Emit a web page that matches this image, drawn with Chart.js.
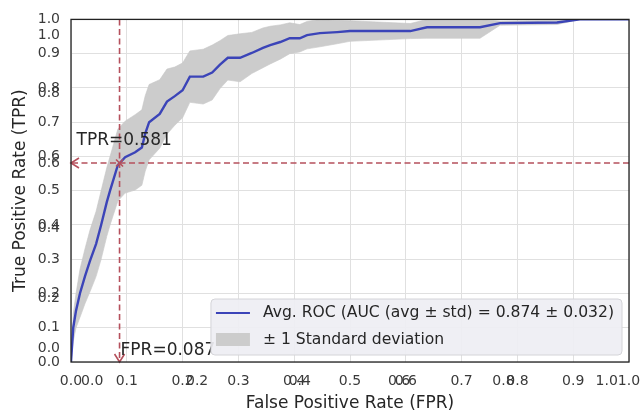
<!DOCTYPE html>
<html>
<head>
<meta charset="utf-8">
<script src="https://cdn.jsdelivr.net/npm/chart.js@4.4.1/dist/chart.umd.min.js"></script>
<style>
  html, body { margin: 0; padding: 0; background: #fff; }
  #wrap { width: 644px; height: 415px; }
</style>
</head>
<body>
<div id="wrap"><canvas id="rocChart"></canvas></div>
<script>
// averaged ROC curve
const fprValues = [0, 0.004, 0.009, 0.016, 0.025, 0.034, 0.045, 0.054, 0.064, 0.07, 0.084, 0.097, 0.115, 0.127, 0.133, 0.14,
    0.159, 0.172, 0.186, 0.2, 0.213, 0.237, 0.253, 0.267, 0.281, 0.303, 0.324, 0.344, 0.357, 0.375, 0.392, 0.41, 0.423,
    0.446, 0.477, 0.5, 0.608, 0.638, 0.733, 0.769, 0.871, 0.912, 1.0];
const meanTpr = [0, 0.1, 0.15, 0.2, 0.25, 0.295, 0.345, 0.4, 0.466, 0.5, 0.575, 0.598, 0.612, 0.626, 0.667, 0.7,
    0.724, 0.76, 0.776, 0.793, 0.833, 0.833, 0.845, 0.868, 0.888, 0.888, 0.902, 0.917, 0.925, 0.934, 0.945, 0.945, 0.954,
    0.96, 0.963, 0.966, 0.966, 0.977, 0.977, 0.989, 0.991, 1.0, 1.0];
const stdTpr = [0, 0.04, 0.05, 0.07, 0.08, 0.09, 0.095, 0.1, 0.1, 0.1, 0.105, 0.105, 0.11, 0.11, 0.11, 0.11,
    0.1, 0.095, 0.085, 0.08, 0.075, 0.08, 0.08, 0.07, 0.065, 0.07, 0.06, 0.058, 0.055, 0.05, 0.045, 0.04, 0.04,
    0.04, 0.034, 0.03, 0.022, 0.032, 0.032, 0.006, 0.006, 0, 0];

const xTicks = [0, 0.1, 0.2, 0.3, 0.4, 0.5, 0.6, 0.7, 0.8, 0.9, 1.0];
const xExtraTicks = [0.038, 0.226, 0.41, 0.588, 0.775, 0.96];
const yTicks = [0, 0.1, 0.2, 0.3, 0.4, 0.5, 0.6, 0.7, 0.8, 0.9, 1.0];
const yExtraTicks = [0.04, 0.186, 0.39, 0.581, 0.785, 0.954];

const thresholdFpr = 0.087;
const thresholdTpr = 0.581;
const aucMean = 0.874;
const aucStd = 0.032;

const meanLabel = `Avg. ROC (AUC (avg ± std) = ${aucMean.toFixed(3)} ± ${aucStd.toFixed(3)})`;
const bandLabel = '± 1 Standard deviation';

const lineColor = '#3b44b8';
const bandColor = '#cccccc';
const markColor = '#b5505c';
const textColor = '#262626';

Chart.defaults.font.family = "'DejaVu Sans', sans-serif";
Chart.defaults.color = textColor;

const meanPoints = fprValues.map((x, i) => ({ x: x, y: meanTpr[i] }));
const upperPoints = fprValues.map((x, i) => ({ x: x, y: Math.min(meanTpr[i] + stdTpr[i], 1) }));
const lowerPoints = fprValues.map((x, i) => ({ x: x, y: Math.max(meanTpr[i] - stdTpr[i], 0) }));

function isExtra(list, v) {
    return list.some(e => Math.abs(e - v) < 1e-9);
}

function axisOptions(mainTicks, extraTicks, title) {
    return {
        type: 'linear',
        min: 0,
        max: 1,
        afterBuildTicks: (scale) => {
            scale.ticks = mainTicks.concat(extraTicks).map(v => ({ value: v }));
        },
        ticks: {
            autoSkip: false,
            maxRotation: 0,
            padding: 11,
            color: '#3a3a3a',
            font: { size: 14 },
            callback: (v) => Number(v).toFixed(1),
        },
        grid: {
            drawTicks: false,
            lineWidth: 1,
            color: (ctx) => (ctx.tick && isExtra(extraTicks, ctx.tick.value)) ? 'rgba(0,0,0,0)' : '#e0e0e0',
        },
        border: { display: false },
        title: {
            display: true,
            text: title,
            color: textColor,
            font: { size: 17 },
        },
    };
}

const xOpts = axisOptions(xTicks, xExtraTicks, 'False Positive Rate (FPR)');
xOpts.title.padding = { top: 0, bottom: 1 };
xOpts.afterFit = (scale) => { scale.height = 53; };

const yOpts = axisOptions(yTicks, yExtraTicks, 'True Positive Rate (TPR)');
yOpts.title.padding = { top: 10, bottom: 0 };
yOpts.afterFit = (scale) => { scale.width = 71; };

const overlayPlugin = {
    id: 'overlay',
    afterDatasetsDraw(chart) {
        const { ctx, chartArea: a, scales: { x, y } } = chart;
        const px = x.getPixelForValue(thresholdFpr);
        const py = y.getPixelForValue(thresholdTpr);

        ctx.save();
        // dashed threshold lines with open arrow heads
        ctx.strokeStyle = markColor;
        ctx.lineWidth = 1.6;
        ctx.setLineDash([6, 3.5]);
        ctx.beginPath();
        ctx.moveTo(px, a.top);
        ctx.lineTo(px, a.bottom);
        ctx.moveTo(a.right, py);
        ctx.lineTo(a.left, py);
        ctx.stroke();
        ctx.setLineDash([]);
        ctx.beginPath();
        ctx.moveTo(px - 5, a.bottom - 8);
        ctx.lineTo(px, a.bottom);
        ctx.lineTo(px + 5, a.bottom - 8);
        ctx.moveTo(a.left + 8, py - 5);
        ctx.lineTo(a.left, py);
        ctx.lineTo(a.left + 8, py + 5);
        ctx.moveTo(px - 3.5, py - 3.5);
        ctx.lineTo(px + 3.5, py + 3.5);
        ctx.moveTo(px - 3.5, py + 3.5);
        ctx.lineTo(px + 3.5, py - 3.5);
        ctx.stroke();

        // annotations
        ctx.fillStyle = textColor;
        ctx.font = "17px 'DejaVu Sans', sans-serif";
        ctx.textBaseline = 'middle';
        ctx.textAlign = 'left';
        ctx.fillText('TPR=' + thresholdTpr.toFixed(3), px - 43, py - 22);
        ctx.fillText('FPR=' + thresholdFpr.toFixed(3), px + 1, a.bottom - 11);

        // frame
        ctx.strokeStyle = '#222222';
        ctx.lineWidth = 1.3;
        ctx.strokeRect(a.left, a.top, a.width, a.height);

        // legend, lower right
        ctx.font = "15.6px 'DejaVu Sans', sans-serif";
        const textW = Math.max(ctx.measureText(meanLabel).width, ctx.measureText(bandLabel).width);
        const boxW = textW + 60;
        const boxH = 56;
        const bx = a.right - 7 - boxW;
        const by = a.bottom - 7 - boxH;
        ctx.beginPath();
        ctx.roundRect(bx, by, boxW, boxH, 4);
        ctx.fillStyle = 'rgba(238,238,243,0.92)';
        ctx.fill();
        ctx.strokeStyle = '#d4d4d8';
        ctx.lineWidth = 1;
        ctx.stroke();

        ctx.strokeStyle = lineColor;
        ctx.lineWidth = 2.2;
        ctx.beginPath();
        ctx.moveTo(bx + 5, by + 14);
        ctx.lineTo(bx + 39, by + 14);
        ctx.stroke();
        ctx.fillStyle = bandColor;
        ctx.fillRect(bx + 5, by + 34, 34, 13);

        ctx.fillStyle = textColor;
        ctx.fillText(meanLabel, bx + 52, by + 14);
        ctx.fillText(bandLabel, bx + 52, by + 41);
        ctx.restore();
    }
};

const ctx = document.getElementById('rocChart').getContext('2d');
const rocChart = new Chart(ctx, {
    type: 'line',
    data: {
        datasets: [
            {
                label: 'lower',
                data: lowerPoints,
                borderColor: '#c6c6c6',
                borderWidth: 0.6,
                pointRadius: 0,
                fill: false,
                order: 2,
            },
            {
                label: bandLabel,
                data: upperPoints,
                borderColor: '#c6c6c6',
                borderWidth: 0.6,
                backgroundColor: bandColor,
                pointRadius: 0,
                fill: '-1',
                order: 1,
            },
            {
                label: meanLabel,
                data: meanPoints,
                borderColor: lineColor,
                borderWidth: 2.4,
                pointRadius: 0,
                fill: false,
                order: 0,
            },
        ]
    },
    options: {
        responsive: true,
        maintainAspectRatio: false,
        animation: false,
        layout: { padding: { left: 0, right: 15, top: 14, bottom: 0 } },
        scales: { x: xOpts, y: yOpts },
        plugins: {
            legend: { display: false },
            tooltip: { enabled: false },
        },
    },
    plugins: [overlayPlugin],
});
</script>
</body>
</html>
